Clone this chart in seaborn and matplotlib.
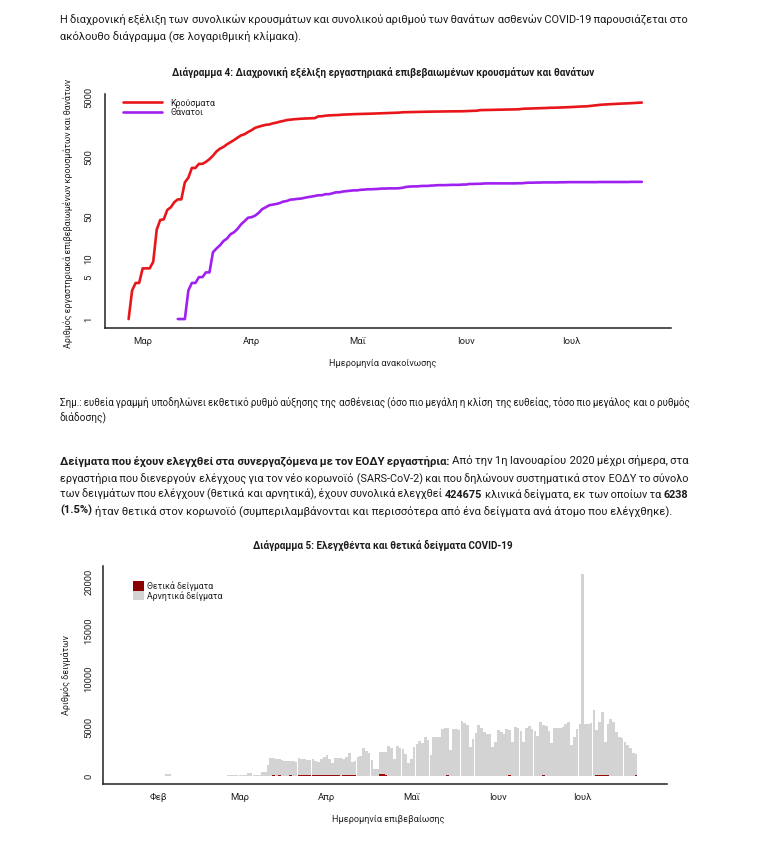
import matplotlib
matplotlib.use("Agg")
import matplotlib.pyplot as plt
from matplotlib.lines import Line2D
from matplotlib.patches import Patch
import numpy as np
import pandas as pd
import seaborn as sns

W, H = 762, 860
TEXT = "#1b1b1b"
HAIR = "\u200a"

# ---------------- data ----------------
# Διάγραμμα 4: αθροιστικά κρούσματα / θάνατοι ανά ημέρα ανακοίνωσης
cases_start = "2020-02-26"
cases = [1, 3, 4, 4,
         7, 7, 7, 9, 31, 45, 46, 66, 73, 89, 99, 99, 190, 228, 331, 331, 387, 387, 418, 464,
         530, 624, 695, 743, 821, 892, 966, 1061, 1156, 1212, 1314,
         1415, 1544, 1613, 1673, 1735, 1755, 1832, 1884, 1955, 2011, 2081, 2114, 2145, 2170, 2192,
         2207, 2224, 2235, 2245, 2401, 2408, 2463, 2490, 2506, 2517, 2534, 2566, 2576, 2591, 2612,
         2620, 2626, 2632, 2642, 2663, 2678, 2691, 2710, 2716, 2726, 2744, 2760, 2770, 2810, 2819,
         2834, 2836, 2840, 2850, 2853, 2873, 2876, 2878, 2882, 2892, 2903, 2906, 2909, 2915, 2917, 2918,
         2937, 2952, 2967, 2980, 3049, 3058, 3060, 3072, 3083, 3089, 3102, 3108, 3112, 3121, 3134,
         3148, 3203, 3227, 3237, 3256, 3266, 3287, 3302, 3310, 3343, 3343, 3366, 3376, 3390, 3409,
         3432, 3458, 3486, 3511, 3519, 3562, 3622, 3672, 3732, 3772, 3803, 3826, 3854, 3883, 3910,
         3939, 3964, 3983, 4007, 4048, 4077]
deaths_start = "2020-03-11"
deaths = [1, 1, 1, 3, 4, 4, 5, 5, 6, 6, 13, 15, 17, 20, 22, 26, 28, 32, 38, 43, 49,
          50, 53, 59, 68, 73, 79, 81, 83, 86, 91, 93, 98, 99, 101, 102, 105, 108, 110, 113, 116,
          116, 121, 121, 125, 130, 130, 134, 136, 138, 140,
          140, 143, 144, 146, 146, 147, 148, 150, 150, 151, 151, 151, 152, 155, 160, 162, 163, 163,
          165, 166, 166, 168, 169, 171, 171, 171, 172, 173, 173, 173, 175,
          175, 179, 179, 180, 180, 182, 183, 183, 183, 183, 183, 183, 183, 183, 183, 184, 184, 187,
          188, 188, 189, 189, 190, 190, 190, 190, 190, 191, 191, 192,
          192, 192, 192, 192, 192, 192, 192, 192, 193, 193, 193, 193, 193, 193, 193, 193, 193, 194,
          194, 194, 194]
ticks_1 = ["2020-03-01", "2020-04-01", "2020-05-01", "2020-06-01", "2020-07-01"]
labels_1 = ["Μαρ", "Απρ", "Μαΐ", "Ιουν", "Ιουλ"]
yticks_1 = [1, 5, 10, 50, 100, 500, 1000, 5000]
ylabels_1 = ["1", "5", "10", "50", "", "500", "", "5000"]

# Διάγραμμα 5: δείγματα ανά ημέρα επιβεβαίωσης
tests_start = "2020-01-27"
negative = ([5, 8, 6, 10, 12] +
            [10, 8, 15, 150, 180, 20, 15, 10, 8, 12, 15, 10, 12, 8, 10, 6, 12, 10, 8, 10, 12, 8, 10,
             15, 30, 60, 90, 80, 70] +
            [90, 100, 110, 250, 270, 120, 110, 130, 350, 450, 1100, 1850, 1750, 1700, 1650, 1600,
             1540, 1560, 1500, 1470, 1400, 1780, 1700, 1650, 1540, 1600, 1650, 1400, 1350, 1650, 1890] +
            [2060, 1600, 1300, 1780, 1750, 1780, 1650, 1900, 2330, 1370, 1500, 1920, 2060, 2850, 2600,
             2400, 1650, 720, 690, 2260, 2350, 2400, 3090, 2900, 1710, 3120, 2900, 2810, 2200, 1300] +
            [1750, 2920, 3300, 3600, 3360, 3980, 3700, 2160, 3980, 4000, 4010, 4840, 4900, 4900, 2680,
             4840, 4780, 4730, 5690, 5500, 5250, 2950, 3800, 4460, 5250, 4900, 4490, 4320, 4300, 3020, 3530] +
            [4730, 4500, 4290, 4840, 4700, 3530, 5080, 4900, 4660, 3530, 4900, 5110, 4800, 4600, 4050,
             5520, 5200, 5080, 4630, 3360, 4940, 4950, 4940, 5010, 5300, 5560, 3190, 4000, 4840, 5280] +
            [20800, 5360, 5360, 5400, 6800, 4640, 5500, 6500, 3400, 5260, 5880, 5500, 4540, 4020, 3920,
             3500, 3120, 2900, 2370, 2260])
positive = ([0, 0, 0, 0, 0] +
            [0] * 25 + [1, 2, 1, 0] +
            [3, 0, 0, 2, 22, 14, 21, 7, 11, 5, 10, 18, 73, 38, 103, 21, 35, 31, 46, 31, 35, 94, 71, 48,
             78, 71, 74, 95, 95, 56, 102] +
            [101, 129, 69, 60, 62, 20, 77, 52, 71, 56, 70, 33, 31, 25, 22, 15, 17, 11, 10, 220, 150, 55,
             27, 16, 11, 17, 32, 10, 15, 21] +
            [18, 16, 16, 20, 31, 25, 23, 29, 16, 20, 28, 26, 20, 50, 19, 25, 12, 14, 20, 13, 30, 13, 12,
             14, 20, 21, 13, 13, 16, 12, 11] +
            [29, 25, 25, 23, 79, 19, 12, 22, 21, 16, 23, 16, 14, 19, 23, 24, 65, 34, 20, 29, 20, 31, 25,
             18, 43, 20, 33, 20, 24, 29] +
            [33, 36, 38, 35, 18, 53, 70, 60, 70, 50, 41, 33, 38, 39, 37, 39, 35, 29, 34, 51])
ticks_2 = ["2020-02-01", "2020-03-01", "2020-04-01", "2020-05-01", "2020-06-01", "2020-07-01"]
labels_2 = ["Φεβ", "Μαρ", "Απρ", "Μαΐ", "Ιουν", "Ιουλ"]
yticks_2 = [0, 5000, 10000, 15000, 20000]

origin = pd.Timestamp("2020-01-01")


def daynum(start, n):
    return (pd.date_range(start, periods=n, freq="D") - origin).days.values


def tickdays(dates):
    return (pd.to_datetime(dates) - origin).days.values


df_cases = pd.DataFrame({"day": daynum(cases_start, len(cases)), "n": cases})
df_deaths = pd.DataFrame({"day": daynum(deaths_start, len(deaths)), "n": deaths})
df_tests = pd.DataFrame({"day": daynum(tests_start, len(negative)),
                         "neg": negative, "pos": positive})
df_tests["total"] = df_tests["neg"] + df_tests["pos"]

# ---------------- figure ----------------
sns.set_style("white")
plt.rcParams["font.family"] = ["Roboto", "DejaVu Sans"]
plt.rcParams["axes.linewidth"] = 1.1

fig = plt.figure(figsize=(W / 100, H / 100), dpi=100)
renderer = fig.canvas.get_renderer()


def fpos(l, t, r, b):
    return [l / W, 1 - b / H, (r - l) / W, (b - t) / H]


def text_w(s, size, bold):
    t = fig.text(0, 0, s, fontsize=size, fontweight="bold" if bold else "normal")
    w = t.get_window_extent(renderer).width
    t.remove()
    return w


def adv_w(s, size, bold):
    return text_w("x" + s + "x", size, bold) - text_w("xx", size, bold)


def draw_line(segments, x0, base, size, x1=None):
    # one Text per bold/normal run; justified lines use hair spaces as word gaps
    words = [(w, b) for text, b in segments for w in text.split()]
    n = len(words)
    while True:
        widths = [adv_w(w, size, b) for w, b in words]
        sp = adv_w(" ", size, False)
        if x1 is None:
            gap = sp
            break
        gap = (x1 - x0 - sum(widths)) / (n - 1)
        if gap >= 0.85 * sp:
            break
        size -= 0.1
    pos = [x0 + sum(widths[:j]) + gap * j for j in range(n)]
    runs = []
    for j, (w, b) in enumerate(words):
        if runs and runs[-1][0] == b:
            runs[-1][1].append(j)
        else:
            runs.append((b, [j]))
    cursor = x0
    for r, (b, idx) in enumerate(runs):
        ws = [words[j][0] for j in idx]
        g = len(ws) - 1
        if x1 is None:
            start = cursor
            s = " ".join(ws)
            cursor = start + text_w(s, size, b) + sp
        else:
            start = pos[idx[0]]
            end = x1 if r == len(runs) - 1 else pos[idx[-1]] + widths[idx[-1]]
            if g == 0:
                s = ws[0]
            else:
                w1 = text_w(HAIR.join(ws), size, b)
                w11 = text_w((HAIR * 11).join(ws), size, b)
                hr = (w11 - w1) / (10 * g)
                total = g + max(0, int(round((end - start - w1) / hr)))
                ks = [int(round(total * (i + 1) / g)) - int(round(total * i / g)) for i in range(g)]
                s = ws[0]
                for k, w in zip(ks, ws[1:]):
                    s += HAIR * max(k, 1) + w
        fig.text(start / W, 1 - base / H, s, fontsize=size, color=TEXT, ha="left",
                 va="baseline", fontweight="bold" if b else "normal")


def style_axes(ax):
    sns.despine(ax=ax)
    for s in ("left", "bottom"):
        ax.spines[s].set_color("#222222")
    ax.tick_params(axis="both", which="major", direction="out", length=3.2, width=0.9,
                   color="#222222", labelsize=6.8, labelcolor="#222222")
    ax.tick_params(axis="both", which="minor", length=0)
    for lab in ax.get_yticklabels():
        lab.set_rotation(90)
        lab.set_va("center")
        lab.set_ha("right")


# body text
draw_line([("Η διαχρονική εξέλιξη των συνολικών κρουσμάτων και συνολικού αριθμού των θανάτων "
            "ασθενών COVID-19 παρουσιάζεται στο", False)], 60, 22.5, 8.0, 688)
draw_line([("ακόλουθο διάγραμμα (σε λογαριθμική κλίμακα).", False)], 60, 39.5, 8.0)

draw_line([("Σημ.: ευθεία γραμμή υποδηλώνει εκθετικό ρυθμό αύξησης της ασθένειας (όσο πιο μεγάλη "
            "η κλίση της ευθείας, τόσο πιο μεγάλος και ο ρυθμός", False)], 60, 405, 7.3, 690)
draw_line([("διάδοσης)", False)], 60, 421, 7.3)

para = [
    [("Δείγματα που έχουν ελεγχθεί στα συνεργαζόμενα με τον ΕΟΔΥ εργαστήρια:", True),
     ("Από την 1η Ιανουαρίου 2020 μέχρι σήμερα, στα", False)],
    [("εργαστήρια που διενεργούν ελέγχους για τον νέο κορωνοϊό (SARS-CoV-2) και που δηλώνουν "
      "συστηματικά στον ΕΟΔΥ το σύνολο", False)],
    [("των δειγμάτων που ελέγχουν (θετικά και αρνητικά), έχουν συνολικά ελεγχθεί", False),
     ("424675", True), ("κλινικά δείγματα, εκ των οποίων τα", False), ("6238", True)],
    [("(1.5%)", True),
     ("ήταν θετικά στον κορωνοϊό (συμπεριλαμβάνονται και περισσότερα από ένα δείγματα ανά άτομο "
      "που ελέγχθηκε).", False)],
]
for i, (segs, base) in enumerate(zip(para, [464.5, 481, 497.5, 514])):
    draw_line(segs, 60, base, 8.1, 688 if i < 3 else None)

fig.text(383 / W, 1 - 72 / H, "Διάγραμμα 4: Διαχρονική εξέλιξη εργαστηριακά επιβεβαιωμένων "
         "κρουσμάτων και θανάτων", fontsize=7.1, fontweight="bold", color=TEXT,
         ha="center", va="center")
fig.text(383 / W, 1 - 545 / H, "Διάγραμμα 5: Ελεγχθέντα και θετικά δείγματα COVID-19",
         fontsize=7.1, fontweight="bold", color=TEXT, ha="center", va="center")

# ---------------- chart 4 ----------------
ax1 = fig.add_axes(fpos(104.7, 93.9, 671, 327.7))
sns.lineplot(data=df_cases, x="day", y="n", color="#e8161b", lw=1.9, ax=ax1)
sns.lineplot(data=df_deaths, x="day", y="n", color="#a020f0", lw=1.9, ax=ax1)
ax1.set_yscale("log")
lo = 0.0
hi = np.log10(max(cases))
pad = 0.04 * (hi - lo)
ax1.set_ylim(10 ** (lo - pad), 10 ** (hi + pad))
m1 = tickdays(ticks_1)[0]
ax1.set_xlim(m1 - 10.8, m1 + 150.3)
ax1.set_xticks(tickdays(ticks_1))
ax1.set_xticklabels(labels_1)
ax1.set_yticks(yticks_1)
ax1.set_yticklabels(ylabels_1)
ax1.yaxis.set_minor_locator(matplotlib.ticker.NullLocator())
style_axes(ax1)
ax1.tick_params(axis="x", pad=3.4)
ax1.tick_params(axis="y", pad=5.2)
ax1.set_xlabel("Ημερομηνία ανακοίνωσης", fontsize=6.6, color="#222222")
ax1.set_ylabel("Αριθμός εργαστηριακά επιβεβαιωμένων κρουσμάτων και θανάτων",
               fontsize=6.4, color="#222222")
ax1.xaxis.set_label_coords(383 / W, 1 - 363 / H, transform=fig.transFigure)
ax1.yaxis.set_label_coords(68 / W, 1 - 213 / H, transform=fig.transFigure)
ax1.xaxis.label.set_va("center")
ax1.yaxis.label.set_va("center")

h1 = [Line2D([], [], color="#e8161b", lw=1.9), Line2D([], [], color="#a020f0", lw=1.9)]
ax1.legend(h1, ["Κρούσματα", "Θάνατοι"], loc="upper left", frameon=False, fontsize=6.4,
           bbox_to_anchor=(123 / W, 1 - 98.5 / H), bbox_transform=fig.transFigure,
           borderpad=0, borderaxespad=0, handlelength=4.4, handletextpad=0.9,
           labelspacing=0.05, labelcolor="#222222")

# ---------------- chart 5 ----------------
ax2 = fig.add_axes(fpos(103.3, 566, 667, 784))
sns.histplot(data=df_tests, x="day", weights="total", discrete=True, shrink=0.96,
             color="#d3d3d3", alpha=1, edgecolor="none", linewidth=0, ax=ax2)
sns.histplot(data=df_tests, x="day", weights="pos", discrete=True, shrink=0.96,
             color="#9b0a0a", alpha=1, edgecolor="none", linewidth=0, ax=ax2)
top = df_tests["total"].max()
ax2.set_ylim(-0.04 * top, 1.04 * top)
m2 = tickdays(ticks_2)[0]
ax2.set_xlim(m2 - 19.6, m2 + 181.0)
ax2.set_xticks(tickdays(ticks_2))
ax2.set_xticklabels(labels_2)
ax2.set_yticks(yticks_2)
ax2.set_yticklabels([str(v) for v in yticks_2])
style_axes(ax2)
ax2.tick_params(axis="x", pad=3.4)
ax2.tick_params(axis="y", pad=4.0)
ax2.set_xlabel("Ημερομηνία επιβεβαίωσης", fontsize=6.6, color="#222222")
ax2.set_ylabel("Αριθμός δειγμάτων", fontsize=6.5, color="#222222")
ax2.xaxis.set_label_coords(388 / W, 1 - 820 / H, transform=fig.transFigure)
ax2.yaxis.set_label_coords(66 / W, 1 - 675 / H, transform=fig.transFigure)
ax2.xaxis.label.set_va("center")
ax2.yaxis.label.set_va("center")

h2 = [Patch(facecolor="#8b0000", edgecolor="none"), Patch(facecolor="#d3d3d3", edgecolor="none")]
ax2.legend(h2, ["Θετικά δείγματα", "Αρνητικά δείγματα"], loc="upper left", frameon=False,
           fontsize=6.3, bbox_to_anchor=(133.3 / W, 1 - 581 / H), bbox_transform=fig.transFigure,
           borderpad=0, borderaxespad=0, handlelength=1.25, handleheight=1.25,
           handletextpad=0.3, labelspacing=0.0, labelcolor="#222222")

fig.savefig("out.png", dpi=100, facecolor="white")
